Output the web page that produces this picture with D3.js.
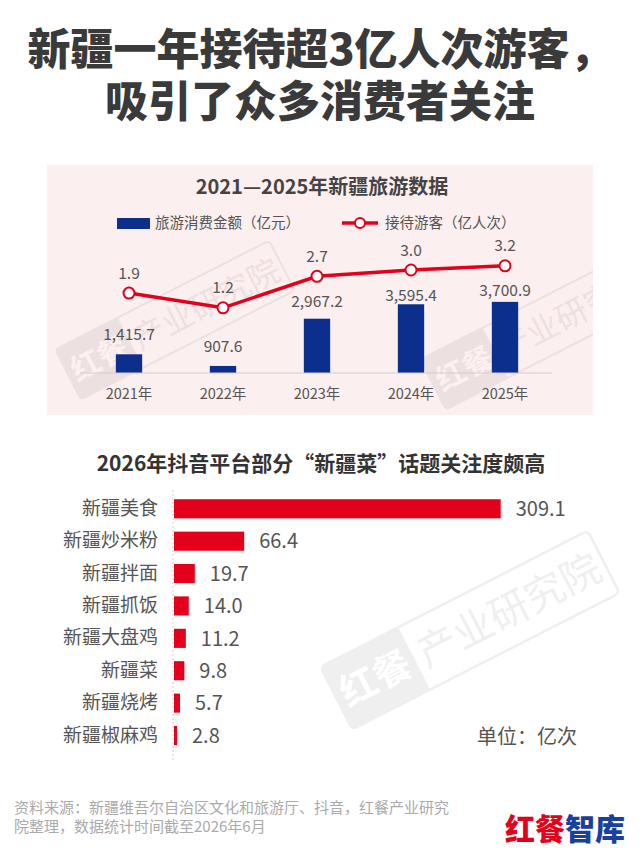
<!DOCTYPE html>
<html>
<head>
<meta charset="utf-8">
<script src="https://cdn.jsdelivr.net/npm/d3@7"></script>
<style>
  body { margin: 0; background: #fff; }
  svg text { font-family: "Noto Sans CJK SC", "Noto Sans", sans-serif; }
</style>
</head>
<body>
<div id="chart"></div>
<script>
// top chart data
const years = ["2021年", "2022年", "2023年", "2024年", "2025年"];
const spend = [1415.7, 907.6, 2967.2, 3595.4, 3700.9];
const visitors = [1.9, 1.2, 2.7, 3.0, 3.2];

// bottom chart data
const dishes = ["新疆美食", "新疆炒米粉", "新疆拌面", "新疆抓饭", "新疆大盘鸡", "新疆菜", "新疆烧烤", "新疆椒麻鸡"];
const heat = [309.1, 66.4, 19.7, 14.0, 11.2, 9.8, 5.7, 2.8];

const titleLines = ["新疆一年接待超3亿人次游客，", "吸引了众多消费者关注"];
const sourceLines = ["资料来源：新疆维吾尔自治区文化和旅游厅、抖音，红餐产业研究", "院整理，数据统计时间截至2026年6月"];

const width = 640, height = 853;
const red = "#e3001b", blue = "#0c2f8e", grey = "#555";

const svg = d3.select("#chart").append("svg")
	.attr("width", width)
	.attr("height", height);

// headline
svg.selectAll("text.headline")
	.data(titleLines).enter()
	.append("text")
		.attr("class", "headline")
		.attr("x", width / 2)
		.attr("y", (d, i) => 50 + i * 52)
		.attr("dy", "0.36em")
		.attr("text-anchor", "middle")
		.attr("font-size", 43)
		.attr("font-weight", 900)
		.attr("fill", "#3a3a3a")
		.text((d) => d);

// pink panel
svg.append("rect")
	.attr("x", 47).attr("y", 165)
	.attr("width", 546).attr("height", 250)
	.attr("fill", "#fcefef");

svg.append("clipPath").attr("id", "panelClip")
	.append("rect")
		.attr("x", 47).attr("y", 165)
		.attr("width", 546).attr("height", 250);

// faint watermarks
function watermark(parent, cx, cy, s) {
	const g = parent.append("g")
		.attr("transform", `translate(${cx},${cy}) rotate(-27) scale(${s})`)
		.attr("opacity", 0.06);
	g.append("rect").attr("x", -120).attr("y", -28).attr("width", 240).attr("height", 56)
		.attr("rx", 4).attr("fill", "none").attr("stroke", "#000").attr("stroke-width", 2);
	g.append("rect").attr("x", -120).attr("y", -28).attr("width", 70).attr("height", 56).attr("fill", "#000");
	g.append("text").attr("x", -85).attr("y", 0).attr("dy", "0.36em").attr("text-anchor", "middle")
		.attr("font-size", 30).attr("font-weight", 700).attr("fill", "#fff").text("红餐");
	g.append("text").attr("x", 35).attr("y", 0).attr("dy", "0.36em").attr("text-anchor", "middle")
		.attr("font-size", 32).attr("fill", "#000").text("产业研究院");
}
const panelMarks = svg.append("g").attr("clip-path", "url(#panelClip)");
watermark(panelMarks, 175, 320, 1);
watermark(panelMarks, 540, 330, 1);
watermark(svg, 470, 630, 1.25);

// top chart title + legend
svg.append("text")
	.attr("x", 322).attr("y", 187).attr("dy", "0.36em")
	.attr("text-anchor", "middle")
	.attr("font-size", 20).attr("font-weight", 700).attr("fill", "#444")
	.text("2021—2025年新疆旅游数据");

const legend = svg.append("g").attr("font-size", 14.5).attr("fill", grey);
legend.append("rect").attr("x", 117).attr("y", 218).attr("width", 33).attr("height", 11).attr("fill", blue);
legend.append("text").attr("x", 155).attr("y", 223).attr("dy", "0.36em").text("旅游消费金额（亿元）");
legend.append("line").attr("x1", 342).attr("x2", 378).attr("y1", 223).attr("y2", 223)
	.attr("stroke", red).attr("stroke-width", 3.5);
legend.append("circle").attr("cx", 360).attr("cy", 223).attr("r", 5)
	.attr("fill", "#fff").attr("stroke", red).attr("stroke-width", 2);
legend.append("text").attr("x", 385).attr("y", 223).attr("dy", "0.36em").text("接待游客（亿人次）");

// top chart scales
const x1 = d3.scaleBand().domain(years).range([82, 552]).paddingInner(0.72).paddingOuter(0.36);
const yBar = d3.scaleLinear().domain([600, 4000]).range([373, 295]);
const yLine = d3.scaleLinear().domain([0, 4]).range([333, 249]);

const tourism = years.map((y, i) => ({ year: y, spend: spend[i], visitors: visitors[i] }));
const cx = (d) => x1(d.year) + x1.bandwidth() / 2;

svg.append("g").selectAll("rect")
	.data(tourism).enter()
	.append("rect")
		.attr("x", (d) => x1(d.year))
		.attr("y", (d) => yBar(d.spend))
		.attr("width", x1.bandwidth())
		.attr("height", (d) => yBar(600) - yBar(d.spend))
		.attr("fill", blue);

const xAxis = svg.append("g")
	.attr("transform", `translate(0,${yBar(600)})`)
	.call(d3.axisBottom(x1).tickSize(0).tickPadding(16));
xAxis.select(".domain").attr("stroke", "#cfcfcf").attr("d", "M80,0H552");
xAxis.selectAll("text").attr("font-size", 14.5).attr("fill", grey)
	.attr("font-family", "Noto Sans CJK SC");

// bar value labels, kept clear of the line
svg.append("g").selectAll("text")
	.data(tourism).enter()
	.append("text")
		.attr("x", cx)
		.attr("y", (d) => Math.max(yBar(d.spend) - 20, yLine(d.visitors) + 25))
		.attr("dy", "0.36em")
		.attr("text-anchor", "middle")
		.attr("font-size", 15.5).attr("fill", grey)
		.text((d) => d3.format(",.1f")(d.spend));

const line = d3.line().x(cx).y((d) => yLine(d.visitors));
svg.append("path")
	.datum(tourism)
	.attr("d", line)
	.attr("fill", "none")
	.attr("stroke", red)
	.attr("stroke-width", 3.5);

svg.append("g").selectAll("circle")
	.data(tourism).enter()
	.append("circle")
		.attr("cx", cx)
		.attr("cy", (d) => yLine(d.visitors))
		.attr("r", 5.5)
		.attr("fill", "#fff").attr("stroke", red).attr("stroke-width", 2);

svg.append("g").selectAll("text")
	.data(tourism).enter()
	.append("text")
		.attr("x", cx)
		.attr("y", (d) => yLine(d.visitors) - 20)
		.attr("dy", "0.36em")
		.attr("text-anchor", "middle")
		.attr("font-size", 15.5).attr("fill", grey)
		.text((d) => d.visitors.toFixed(1));

// bottom chart
svg.append("text")
	.attr("x", 321).attr("y", 463).attr("dy", "0.36em")
	.attr("text-anchor", "middle")
	.attr("font-size", 21).attr("font-weight", 700).attr("fill", "#333")
	.text("2026年抖音平台部分“新疆菜”话题关注度颇高");

const rows = dishes.map((d, i) => ({ dish: d, value: heat[i] }));
const xH = d3.scaleLinear().domain([0, 309.1]).range([174, 500.7]);
const yH = d3.scaleBand().domain(dishes).range([492.6, 751.7]).paddingInner(0.41).paddingOuter(0.205);

svg.append("line")
	.attr("x1", 173).attr("x2", 173).attr("y1", 490).attr("y2", 762)
	.attr("stroke", "#cfcfcf").attr("stroke-dasharray", "2,2");

svg.append("g").selectAll("rect")
	.data(rows).enter()
	.append("rect")
		.attr("x", xH(0))
		.attr("y", (d) => yH(d.dish))
		.attr("width", (d) => Math.max(xH(d.value) - xH(0), 3))
		.attr("height", yH.bandwidth())
		.attr("fill", red);

const yAxis = svg.append("g")
	.attr("transform", "translate(173,0)")
	.call(d3.axisLeft(yH).tickSize(0).tickPadding(15));
yAxis.select(".domain").remove();
yAxis.selectAll("text").attr("font-size", 19).attr("fill", grey)
	.attr("font-family", "Noto Sans CJK SC");

svg.append("g").selectAll("text")
	.data(rows).enter()
	.append("text")
		.attr("x", (d) => Math.max(xH(d.value), xH(0) + 3) + 15)
		.attr("y", (d) => yH(d.dish) + yH.bandwidth() / 2)
		.attr("dy", "0.36em")
		.attr("font-size", 20).attr("fill", grey)
		.text((d) => d.value.toFixed(1));

svg.append("text")
	.attr("x", 577).attr("y", 737).attr("dy", "0.36em")
	.attr("text-anchor", "end")
	.attr("font-size", 20).attr("fill", grey)
	.text("单位：亿次");

// source note
svg.selectAll("text.source")
	.data(sourceLines).enter()
	.append("text")
		.attr("class", "source")
		.attr("x", 14)
		.attr("y", (d, i) => 808 + i * 18.5)
		.attr("dy", "0.36em")
		.attr("font-size", 15).attr("fill", "#aaa")
		.text((d) => d);

// logo
const logo = svg.append("text")
	.attr("x", 505).attr("y", 829).attr("dy", "0.36em")
	.attr("font-size", 30).attr("font-weight", 900);
logo.append("tspan").attr("fill", red).text("红餐");
logo.append("tspan").attr("fill", "#1b3f9c").text("智库");
</script>
</body>
</html>
